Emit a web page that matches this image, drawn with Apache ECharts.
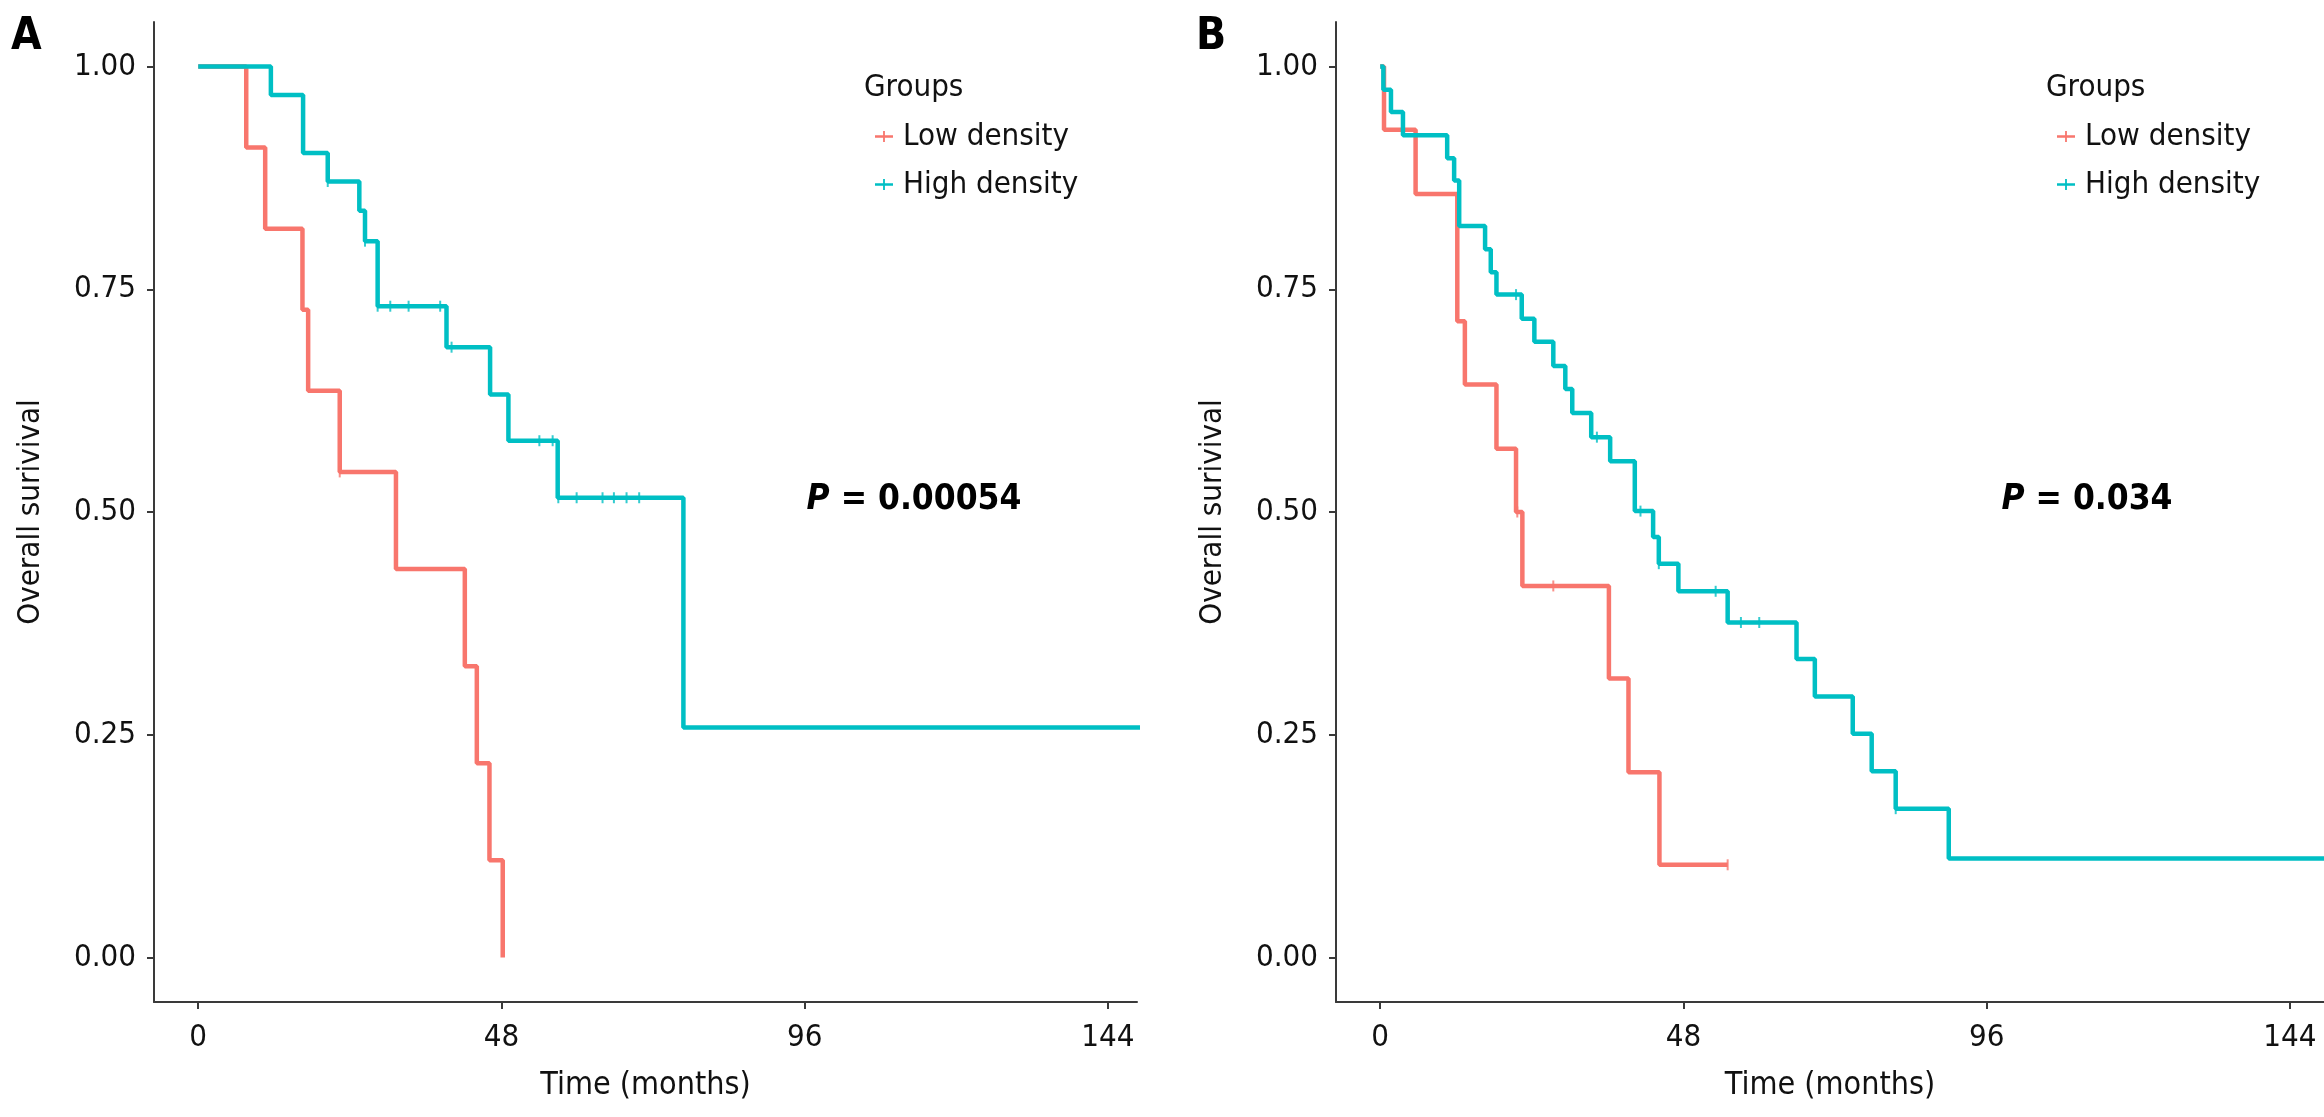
<!DOCTYPE html>
<html>
<head>
<meta charset="utf-8">
<script src="https://cdn.jsdelivr.net/npm/echarts@6/dist/echarts.min.js"></script>
<style>
html,body{margin:0;padding:0;background:#fff;}
#chart{width:2324px;height:1117px;}
</style>
</head>
<body>
<div id="chart"></div>
<script>
// ---------- Data (months, survival probability) ----------
const groupNames = ['Low density', 'High density'];
const xTicks = [0, 48, 96, 144];
const yTicks = [0, 0.25, 0.5, 0.75, 1];

// Panel A
const aLowTimes  = [0, 7.6, 10.6, 16.5, 17.4, 22.4, 31.3, 42.2, 44.1, 46.1, 48.2];
const aLowSurv   = [1, 0.909, 0.818, 0.727, 0.636, 0.545, 0.436, 0.327, 0.218, 0.109, 0];
const aLowCensor = [22.4];
const aLowEnd    = 48.2;

const aHighTimes  = [0, 11.5, 16.6, 20.5, 25.5, 26.4, 28.4, 39.3, 46.2, 49.1, 56.9, 76.8];
const aHighSurv   = [1, 0.968, 0.903, 0.871, 0.838, 0.804, 0.731, 0.685, 0.632, 0.580, 0.516, 0.258];
const aHighCensor = [20.5, 26.4, 28.4, 30.4, 33.3, 38.3, 40.1, 54.0, 56.1, 57.0, 59.9, 64.0, 65.8, 67.8, 69.8];
const aHighEnd    = 160;

// Panel B
const bLowTimes  = [0, 0.6, 5.6, 12.2, 13.4, 18.4, 21.5, 22.5, 36.2, 39.3, 44.2];
const bLowSurv   = [1, 0.929, 0.857, 0.714, 0.643, 0.571, 0.5, 0.417, 0.313, 0.208, 0.104];
const bLowCensor = [21.7, 27.4, 55.0];
const bLowEnd    = 55.0;

const bHighTimes  = [0, 0.5, 1.7, 3.6, 10.6, 11.7, 12.5, 16.6, 17.5, 18.4, 22.4, 24.4, 27.4, 29.3, 30.4, 33.4, 36.4, 40.3, 43.2, 44.1, 47.2, 55.0, 65.9, 68.8, 74.8, 77.8, 81.6, 90.0];
const bHighSurv   = [1, 0.974, 0.949, 0.923, 0.897, 0.872, 0.821, 0.795, 0.769, 0.744, 0.717, 0.691, 0.664, 0.638, 0.611, 0.584, 0.557, 0.501, 0.472, 0.442, 0.411, 0.376, 0.335, 0.293, 0.251, 0.209, 0.167, 0.111];
const bHighCensor = [21.5, 34.3, 41.2, 44.1, 53.1, 57.1, 60.0, 81.6];
const bHighEnd    = 160;

const pValues = ['0.00054', '0.034'];
const panelLabels = ['A', 'B'];

// ---------- Helpers ----------
const colors = ['#F8766D', '#00BFC4'];
const FONT = "'DejaVu Sans Condensed', 'Liberation Sans Narrow', 'DejaVu Sans', sans-serif";

function stepData(times, surv, end) {
  const d = times.map((t, i) => [t, surv[i]]);
  d.push([end, surv[surv.length - 1]]);
  return d;
}
function survAt(times, surv, t) {
  let s = surv[0];
  for (let i = 0; i < times.length; i++) if (times[i] <= t + 1e-9) s = surv[i];
  return s;
}
function censorData(times, surv, cens) {
  return cens.map(t => [t, survAt(times, surv, t)]);
}

const panels = [
  {low: [aLowTimes, aLowSurv, aLowEnd, aLowCensor], high: [aHighTimes, aHighSurv, aHighEnd, aHighCensor]},
  {low: [bLowTimes, bLowSurv, bLowEnd, bLowCensor], high: [bHighTimes, bHighSurv, bHighEnd, bHighCensor]}
];

const grids = [
  {left: 154, top: 22, width: 983, height: 980},
  {left: 1336, top: 22, width: 988, height: 980}
];
const xMax = [148.6, 149.4];

const axisColor = '#3a3a3a';
const xAxes = grids.map((g, i) => ({
  type: 'value', gridIndex: i, min: -7, max: xMax[i],
  name: 'Time (months)', nameLocation: 'middle', nameGap: 68,
  nameTextStyle: {fontFamily: FONT, fontSize: 32, color: '#111'},
  axisLine: {show: true, onZero: false, lineStyle: {color: axisColor, width: 2}},
  axisTick: {show: true, length: 7, lineStyle: {color: axisColor, width: 2}, customValues: xTicks},
  axisLabel: {fontFamily: FONT, fontSize: 31, color: '#111', margin: 20, customValues: xTicks, formatter: v => String(v)},
  splitLine: {show: false}
}));
const yAxes = grids.map((g, i) => ({
  type: 'value', gridIndex: i, min: -0.05, max: 1.05,
  name: 'Overall surivival', nameLocation: 'middle', nameGap: 108,
  nameTextStyle: {fontFamily: FONT, fontSize: 31, color: '#111'},
  axisLine: {show: true, onZero: false, lineStyle: {color: axisColor, width: 2}},
  axisTick: {show: true, length: 7, lineStyle: {color: axisColor, width: 2}, customValues: yTicks},
  axisLabel: {fontFamily: FONT, fontSize: 31, color: '#111', margin: 18, customValues: yTicks, formatter: v => v.toFixed(2)},
  splitLine: {show: false}
}));

const series = [];
panels.forEach((p, i) => {
  [p.low, p.high].forEach((g, k) => {
    const [times, surv, end, cens] = g;
    series.push({
      type: 'line', name: groupNames[k], xAxisIndex: i, yAxisIndex: i,
      step: 'end', data: stepData(times, surv, end), showSymbol: false, symbol: 'none',
      lineStyle: {color: colors[k], width: 4.5}, itemStyle: {color: colors[k]},
      clip: true, animation: false, z: 2 + k
    });
    series.push({
      type: 'scatter', name: groupNames[k], xAxisIndex: i, yAxisIndex: i,
      data: censorData(times, surv, cens), symbol: 'rect', symbolSize: [2, 11],
      itemStyle: {color: colors[k]}, animation: false, z: 4 + k
    });
  });
});

const plusIcon = 'path://M0,4.5h20v3h-20z M9,0h2v12h-2z';
const legends = [870, 2052].map(x => ({
  orient: 'vertical', left: x, top: 116,
  itemWidth: 18, itemHeight: 12, itemGap: 17,
  data: groupNames.map(n => ({name: n, icon: plusIcon})),
  textStyle: {fontFamily: FONT, fontSize: 31, color: '#111', padding: [0, 0, 0, 5], lineHeight: 31},
  selectedMode: false
}));

const graphic = [];
[[864, 11, 914], [2046, 1196, 2087]].forEach((pos, i) => {
  graphic.push({type: 'text', left: pos[0], top: 72, style: {text: 'Groups', font: `31px ${FONT}`, fill: '#111'}});
  graphic.push({type: 'text', left: pos[1], top: 16, style: {text: panelLabels[i], font: `bold 44px ${FONT}`, fill: '#000'}});
  graphic.push({type: 'text', x: pos[2], y: 500, style: {
    text: '{p|P} = ' + pValues[i], align: 'center', verticalAlign: 'middle',
    fontFamily: FONT, fontSize: 35, fontWeight: 'bold', fill: '#000',
    rich: {p: {fontFamily: FONT, fontSize: 35, fontWeight: 'bold', fontStyle: 'italic', fill: '#000'}}
  }});
});

const chart = echarts.init(document.getElementById('chart'), null, {renderer: 'canvas'});
chart.setOption({
  backgroundColor: '#fff',
  animation: false,
  grid: grids,
  xAxis: xAxes,
  yAxis: yAxes,
  legend: legends,
  series: series,
  graphic: graphic
});
</script>
</body>
</html>
